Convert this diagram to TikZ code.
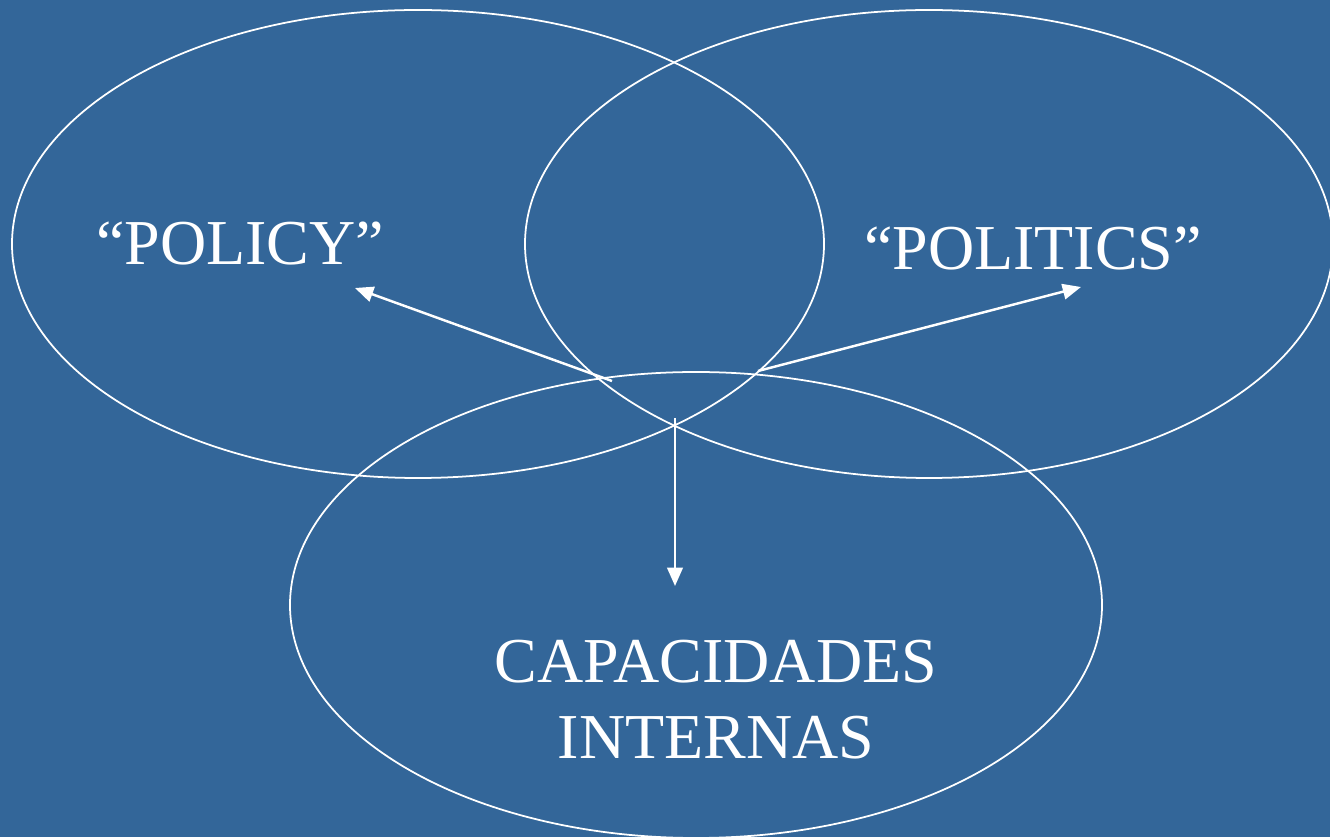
\documentclass[tikz,border=0pt]{standalone}
\usepackage{fontspec}
\setmainfont{Liberation Serif}
\usepackage{tikz}
\usetikzlibrary{arrows.meta}
\usetikzlibrary{positioning}

\definecolor{slideblue}{RGB}{51,102,153}

\begin{document}
\begin{tikzpicture}[x=0.01cm, y=-0.01cm,
		ring/.style={draw=white, line width=0.5pt},
		label/.style={text=white, font=\fontsize{18.2}{21.6}\selectfont, align=center, anchor=base, inner sep=0pt},
		arr/.style={draw=white, line width=0.7pt, -{Triangle[length=5.2pt, width=4.4pt]}}]
		\fill[slideblue] (0,0) rectangle (1330,837);
		\useasboundingbox (0,0) rectangle (1330,837);
		
		% the three sets
		\draw[ring] (418,244) ellipse [x radius=406, y radius=234];
		\draw[ring] (929,244) ellipse [x radius=404, y radius=234];
		\draw[ring] (696,605) ellipse [x radius=406, y radius=233];
		
		\node[label] (policy) at (240,265) {“POLICY”};
		\node[label] (politics) at (1033,270) {“POLITICS”};
		\node[label] (capint) at (716,758) {CAPACIDADES\\INTERNAS};
		
		\coordinate (fromL) at (612,381);
		\coordinate (toL) at (355,288);
		\coordinate (fromR) at (758,371);
		\coordinate (toR) at (1081,287);
		\coordinate (fromD) at (675,418);
		\coordinate (toD) at (675,586);
		
		\draw[arr] (fromL) -- (toL);
		\draw[arr] (fromR) -- (toR);
		\draw[arr] (fromD) -- (toD);
		\end{tikzpicture}
\end{document}
